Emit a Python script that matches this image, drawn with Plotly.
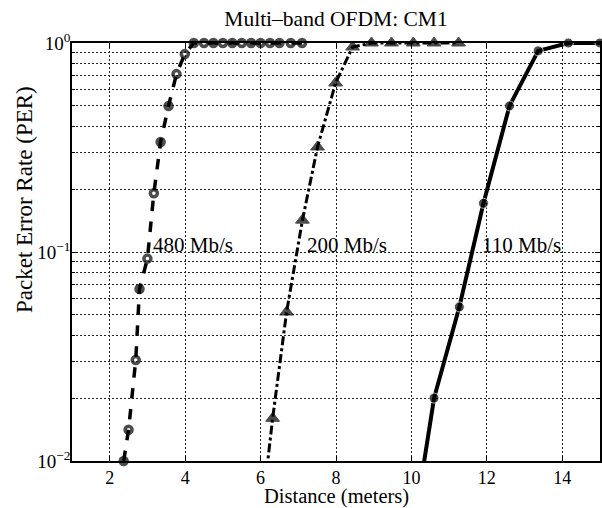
import numpy as np
import plotly.graph_objects as go

# ---- data ----
x_480 = [2.37, 2.5, 2.69, 2.79, 3.0, 3.17, 3.35, 3.56, 3.77, 3.99,
         4.23, 4.5, 4.75, 5.0, 5.25, 5.5, 5.75, 6.0, 6.25, 6.5, 6.8, 7.1]
per_480 = [0.01, 0.0141, 0.0304, 0.0665, 0.093, 0.191, 0.336, 0.50, 0.71, 0.885,
           1, 1, 1, 1, 1, 1, 1, 1, 1, 1, 1, 1]

x_200 = [6.0, 6.32, 6.69, 7.11, 7.51, 7.99, 8.44, 8.94, 9.47, 10.05, 10.6, 11.25]
per_200 = [0.005, 0.016, 0.0516, 0.142, 0.318, 0.644, 0.957, 1, 1, 1, 1, 1]

x_110 = [10.1, 10.6, 11.27, 11.91, 12.6, 13.36, 14.16, 15.0]
per_110 = [0.0053, 0.020, 0.0546, 0.171, 0.50, 0.917, 1.0, 1.0]

labels = ["480 Mb/s", "200 Mb/s", "110 Mb/s"]
label_x = [3.1, 7.17, 11.83]
label_y = [0.108, 0.108, 0.108]

x_ticks = [2, 4, 6, 8, 10, 12, 14]
y_major = [0.01, 0.1, 1]
y_major_text = ["10<sup>−2</sup>", "10<sup>−1</sup>", "10<sup>0</sup>"]
y_minor = [k * 10.0 ** e for e in (-2, -1) for k in range(2, 10)]

FONT = "Liberation Serif, Times New Roman, serif"
PLOT_L, PLOT_T, PLOT_W, PLOT_H = 72, 43, 528, 418


def sizes(ys, s):
    return [0 if v < 0.01 else s for v in ys]


fig = go.Figure()
fig.add_trace(go.Scatter(
    x=x_480, y=per_480, mode="lines+markers", cliponaxis=False,
    line=dict(color="black", width=3.5, dash="dash"),
    marker=dict(symbol="circle-open", size=sizes(per_480, 7), color="black",
                line=dict(color="black", width=3.5))))
fig.add_trace(go.Scatter(
    x=x_200, y=per_200, mode="lines+markers", cliponaxis=False,
    line=dict(color="black", width=3, dash="dashdot"),
    marker=dict(symbol="triangle-up", size=sizes(per_200, 12), color="black",
                line=dict(color="black", width=1))))
fig.add_trace(go.Scatter(
    x=x_110, y=per_110, mode="lines+markers", cliponaxis=False,
    line=dict(color="black", width=4),
    marker=dict(symbol="circle", size=sizes(per_110, 10), color="black")))

for t, lx, ly in zip(labels, label_x, label_y):
    fig.add_annotation(x=lx, y=np.log10(ly), text=t, showarrow=False,
                       xanchor="left", yanchor="middle",
                       font=dict(family=FONT, size=21, color="black"))

# axis titles placed as paper annotations
fig.add_annotation(text="Distance (meters)", xref="paper", yref="paper",
                   x=(336 - PLOT_L) / PLOT_W, y=-(496 - (PLOT_T + PLOT_H)) / PLOT_H,
                   xanchor="center", yanchor="middle", showarrow=False, borderpad=0,
                   font=dict(family=FONT, size=20.5, color="black"))
fig.add_annotation(text="Packet Error Rate (PER)", xref="paper", yref="paper",
                   x=(24 - PLOT_L) / PLOT_W, y=((PLOT_T + PLOT_H) - 200) / PLOT_H,
                   textangle=-90,
                   xanchor="center", yanchor="middle", showarrow=False,
                   font=dict(family=FONT, size=23, color="black"))

grid = dict(gridcolor="#222", griddash="2px,2px", gridwidth=1)

fig.update_layout(
    width=602, height=508,
    margin=dict(l=PLOT_L, r=602 - PLOT_L - PLOT_W, t=PLOT_T, b=508 - PLOT_T - PLOT_H,
                autoexpand=False),
    paper_bgcolor="white", plot_bgcolor="white",
    showlegend=False,
    font=dict(family=FONT, size=18, color="black"),
    title=dict(text="Multi–band OFDM: CM1", x=(336 - PLOT_L) / PLOT_W, xref="paper",
               xanchor="center", y=1 - 18 / 508, yref="container", yanchor="middle",
               font=dict(family=FONT, size=21.5, color="black")),
    xaxis=dict(range=[1, 15], tickvals=x_ticks, ticks="inside", ticklen=5,
               tickcolor="black", showline=True, linecolor="black", linewidth=1.5,
               mirror="ticks", showgrid=True, zeroline=False, automargin=False,
               ticklabelstandoff=0,
               tickfont=dict(family=FONT, size=18),
               **grid),
    yaxis=dict(type="log", range=[-2, 0], tickvals=y_major, ticktext=y_major_text,
               ticks="inside", ticklen=5, tickcolor="black",
               showline=True, linecolor="black", linewidth=1.5, mirror="ticks",
               showgrid=True, zeroline=False, automargin=False,
               ticklabelstandoff=-4,
               tickfont=dict(family=FONT, size=19),
               minor=dict(tickvals=y_minor, ticks="inside", ticklen=3,
                          tickcolor="black", showgrid=True, **grid),
               **grid),
)

fig.write_html("out.html", config={"displayModeBar": False},
               post_script="document.body.style.margin='0px';"
                           "document.body.style.overflow='hidden';")
